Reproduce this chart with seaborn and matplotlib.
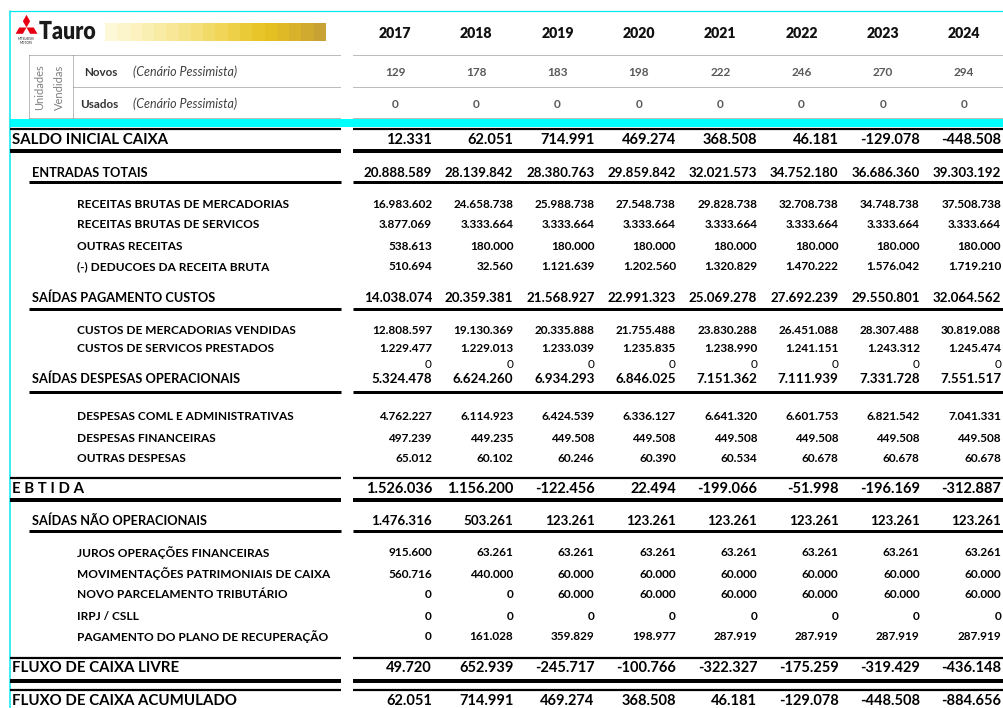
import numpy as np
import pandas as pd
import seaborn as sns
import matplotlib
matplotlib.use("Agg")
import matplotlib.pyplot as plt
from matplotlib.patches import Polygon, Rectangle, PathPatch
from matplotlib.textpath import TextPath
from matplotlib.font_manager import FontProperties
from matplotlib.transforms import Affine2D
from matplotlib.colors import ListedColormap

# ---------------- data ----------------
years = [2017, 2018, 2019, 2020, 2021, 2022, 2023, 2024]
novos = [129, 178, 183, 198, 222, 246, 270, 294]
usados = [0, 0, 0, 0, 0, 0, 0, 0]

saldo_inicial = [12331, 62051, 714991, 469274, 368508, 46181, -129078, -448508]
entradas_totais = [20888589, 28139842, 28380763, 29859842, 32021573, 34752180, 36686360, 39303192]
receitas_merc = [16983602, 24658738, 25988738, 27548738, 29828738, 32708738, 34748738, 37508738]
receitas_serv = [3877069, 3333664, 3333664, 3333664, 3333664, 3333664, 3333664, 3333664]
outras_receitas = [538613, 180000, 180000, 180000, 180000, 180000, 180000, 180000]
deducoes = [510694, 32560, 1121639, 1202560, 1320829, 1470222, 1576042, 1719210]
saidas_custos = [14038074, 20359381, 21568927, 22991323, 25069278, 27692239, 29550801, 32064562]
custos_merc = [12808597, 19130369, 20335888, 21755488, 23830288, 26451088, 28307488, 30819088]
custos_serv = [1229477, 1229013, 1233039, 1235835, 1238990, 1241151, 1243312, 1245474]
linha_zero = [0, 0, 0, 0, 0, 0, 0, 0]
saidas_despesas = [5324478, 6624260, 6934293, 6846025, 7151362, 7111939, 7331728, 7551517]
despesas_coml = [4762227, 6114923, 6424539, 6336127, 6641320, 6601753, 6821542, 7041331]
despesas_fin = [497239, 449235, 449508, 449508, 449508, 449508, 449508, 449508]
outras_despesas = [65012, 60102, 60246, 60390, 60534, 60678, 60678, 60678]
ebtida = [1526036, 1156200, -122456, 22494, -199066, -51998, -196169, -312887]
saidas_nao_op = [1476316, 503261, 123261, 123261, 123261, 123261, 123261, 123261]
juros = [915600, 63261, 63261, 63261, 63261, 63261, 63261, 63261]
movimentacoes = [560716, 440000, 60000, 60000, 60000, 60000, 60000, 60000]
novo_parcelamento = [0, 0, 60000, 60000, 60000, 60000, 60000, 60000]
irpj_csll = [0, 0, 0, 0, 0, 0, 0, 0]
pagamento_plano = [0, 161028, 359829, 198977, 287919, 287919, 287919, 287919]
fluxo_livre = [49720, 652939, -245717, -100766, -322327, -175259, -319429, -436148]
fluxo_acumulado = [62051, 714991, 469274, 368508, 46181, -129078, -448508, -884656]

rows = [
    ("SALDO INICIAL CAIXA", saldo_inicial, "section"),
    ("ENTRADAS TOTAIS", entradas_totais, "group"),
    ("RECEITAS BRUTAS DE MERCADORIAS", receitas_merc, "item"),
    ("RECEITAS BRUTAS DE SERVICOS", receitas_serv, "item"),
    ("OUTRAS RECEITAS", outras_receitas, "item"),
    ("(-) DEDUCOES DA RECEITA BRUTA", deducoes, "item"),
    ("SAÍDAS PAGAMENTO CUSTOS", saidas_custos, "group"),
    ("CUSTOS DE MERCADORIAS VENDIDAS", custos_merc, "item"),
    ("CUSTOS DE SERVICOS PRESTADOS", custos_serv, "item"),
    ("", linha_zero, "plain"),
    ("SAÍDAS DESPESAS OPERACIONAIS", saidas_despesas, "group"),
    ("DESPESAS COML E ADMINISTRATIVAS", despesas_coml, "item"),
    ("DESPESAS FINANCEIRAS", despesas_fin, "item"),
    ("OUTRAS DESPESAS", outras_despesas, "item"),
    ("E B T I D A", ebtida, "section"),
    ("SAÍDAS NÃO OPERACIONAIS", saidas_nao_op, "group"),
    ("JUROS OPERAÇÕES FINANCEIRAS", juros, "item"),
    ("MOVIMENTAÇÕES PATRIMONIAIS DE CAIXA", movimentacoes, "item"),
    ("NOVO PARCELAMENTO TRIBUTÁRIO", novo_parcelamento, "item"),
    ("IRPJ / CSLL", irpj_csll, "item"),
    ("PAGAMENTO DO PLANO DE RECUPERAÇÃO", pagamento_plano, "item"),
    ("FLUXO DE CAIXA LIVRE", fluxo_livre, "section"),
    ("FLUXO DE CAIXA ACUMULADO", fluxo_acumulado, "section"),
]

# ---------------- layout ----------------
row_y = [140, 173, 204, 225, 246, 267, 298, 330, 349, 365, 379,
         417, 438, 458, 489, 521, 553, 574, 595, 616, 637, 668, 701]
col_right = [432 + 81.3 * i for i in range(8)]
col_center = [r - 37 for r in col_right]
GAP0, GAP1 = 341, 353

style = {
    "section": dict(lx=12, lfs=10.8, nfs=10.5, weight="bold"),
    "group": dict(lx=32, lfs=9.2, nfs=9.6, weight="bold"),
    "item": dict(lx=77, lfs=8.6, nfs=8.5, weight="bold"),
    "plain": dict(lx=77, lfs=8.6, nfs=8.5, weight="normal"),
}

# decorative banner colours (stepped, left -> right)
banner_colors = ["#fdf8d8", "#fcf5cc", "#fbf2c0", "#faefb2", "#f8eba4", "#f7e796",
                 "#f5e388", "#f4df78", "#f2da68", "#f0d558", "#edd048", "#ebca38",
                 "#e8c528", "#e4c022", "#dfba26", "#d8b22a", "#d0aa2e", "#c9a236"]

sns.set_style("white")
plt.rcParams["font.family"] = ["Lato", "DejaVu Sans"]

fig = plt.figure(figsize=(10.04, 7.08), dpi=100)
ax = fig.add_axes([0, 0, 1, 1])
ax.set_xlim(0, 1004)
ax.set_ylim(708, 0)
ax.axis("off")

PX = 0.72  # px -> points


def fmt(v):
    return f"{v:,}".replace(",", ".")


def hline(y, x0, px, color="black", ls="-"):
    ax.plot([x0, GAP0], [y, y], color=color, lw=px * PX, ls=ls, solid_capstyle="butt")
    ax.plot([GAP1, 1004], [y, y], color=color, lw=px * PX, ls=ls, solid_capstyle="butt")


# cyan frame
ax.plot([10, 1004], [11, 11], color="#00e8f0", lw=1.2 * PX)
ax.plot([10, 10], [11, 708], color="#00e8f0", lw=1.5 * PX)
ax.add_patch(Rectangle((10, 119), 994, 8, color="#00ffff", lw=0))

# logo: three diamonds
cx, cy, a = 26.5, 27.5, 6.3
b = a * np.tan(np.radians(30))
for ang in (90, 210, 330):
    d = np.array([np.cos(np.radians(ang)), -np.sin(np.radians(ang))])
    n = np.array([-d[1], d[0]])
    c = np.array([cx, cy])
    pts = [c, c + d * a + n * b, c + 2 * a * d, c + d * a - n * b]
    ax.add_patch(Polygon(pts, closed=True, color="#e60012", lw=0))
ax.text(26.5, 39.5, "MITSUBISHI", fontsize=2.2, ha="center", va="center", color="#555555", fontweight="bold")
ax.text(26.5, 43, "MOTORS", fontsize=2.2, ha="center", va="center", color="#555555", fontweight="bold")

tp = TextPath((0, 0), "Tauro", size=27, prop=FontProperties(family="Lato", weight="heavy"))
tr = Affine2D().scale(0.79, -0.92).translate(39, 39) + ax.transData
ax.add_patch(PathPatch(tp, transform=tr, color="#1a1a1a", lw=0))

ax.imshow(np.arange(len(banner_colors))[None, :], cmap=ListedColormap(banner_colors),
          aspect="auto", extent=(105, 326, 41, 23), interpolation="nearest", zorder=1)

# year header
for x, yr in zip(col_center, years):
    ax.text(x, 34, str(yr), fontsize=10.2, fontweight="heavy", ha="center", va="center", color="#111111")

# units block (dotted grid)
dot = (0, (1, 1))
hline(55, 29, 1, color="#7a7a7a", ls=dot)
hline(87, 73, 1, color="#7a7a7a", ls=dot)
hline(118, 29, 1, color="#7a7a7a", ls=dot)
for x in (29, 73):
    ax.plot([x, x], [55, 118], color="#7a7a7a", lw=1 * PX, ls=dot)
ax.text(40, 87, "Unidades", rotation=90, fontsize=8, ha="center", va="center", color="#808080")
ax.text(59, 87, "Vendidas", rotation=90, fontsize=8, ha="center", va="center", color="#808080")
ax.text(84, 72, "Novos", fontsize=8.4, fontweight="bold", ha="left", va="center", color="#333333")
ax.text(133, 72, "(Cenário Pessimista)", fontsize=9, style="italic", ha="left", va="center", color="#404040")
ax.text(80, 104, "Usados", fontsize=8.4, fontweight="bold", ha="left", va="center", color="#333333")
ax.text(133, 104, "(Cenário Pessimista)", fontsize=9, style="italic", ha="left", va="center", color="#404040")
for x, nv, us in zip(col_center, novos, usados):
    ax.text(x, 72, fmt(nv), fontsize=8.5, fontweight="bold", ha="center", va="center", color="#595959")
    ax.text(x, 104, fmt(us), fontsize=8.5, fontweight="bold", ha="center", va="center", color="#595959")

# table rows
for (label, vals, kind), y in zip(rows, row_y):
    st = style[kind]
    if label:
        ax.text(st["lx"], y, label, fontsize=st["lfs"], fontweight=st["weight"],
                ha="left", va="center", color="black")
    for xr, v in zip(col_right, vals):
        ax.text(xr, y, fmt(v), fontsize=st["nfs"], fontweight=st["weight"],
                ha="right", va="center", color="black")

# rules
hline(128.5, 10, 2.2)
hline(151, 10, 4)
hline(182, 29, 3)
hline(309, 29, 3)
hline(392, 29, 3)
hline(478, 10, 2.2)
hline(500, 10, 4)
hline(531, 29, 3)
hline(658, 10, 2.2)
hline(681, 10, 4)
hline(690, 10, 2.2)

fig.savefig("out.png", dpi=100)
